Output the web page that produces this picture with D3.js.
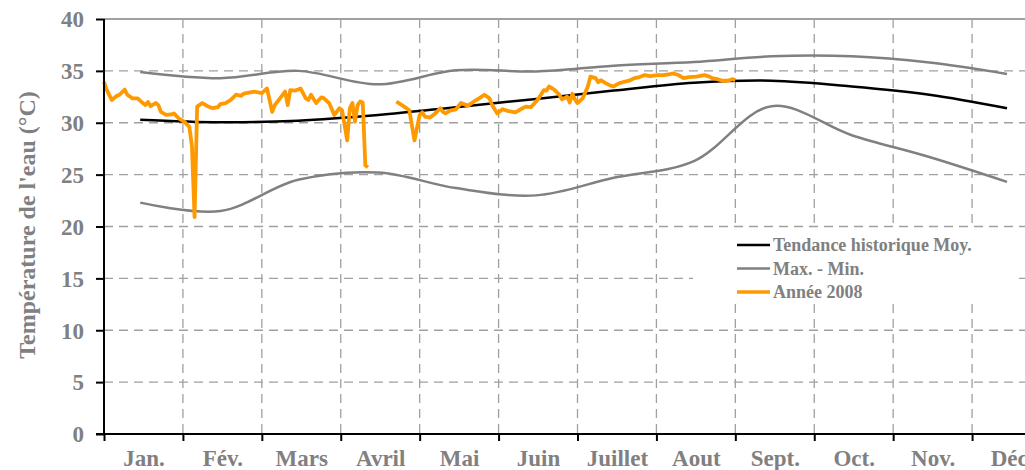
<!DOCTYPE html>
<html lang="fr">
    <head>
        <meta charset="utf-8">
        <title>Température de l'eau</title>
        <script src="https://d3js.org/d3.v7.min.js"></script>
        <style type="text/css">
        body { margin: 0; background: #fff; }
        text { font-family: "Liberation Serif", "Times New Roman", serif; font-weight: bold; fill: #808080; }
        </style>
    </head>
    <body>
        <script type="text/javascript">

//1. Data
const months = ["Jan.", "Fév.", "Mars", "Avril", "Mai", "Juin", "Juillet", "Aout", "Sept.", "Oct.", "Nov.", "Déc."];
const yTicks = [0, 5, 10, 15, 20, 25, 30, 35, 40];

// historical curves, one point around the middle of each month (day of year)
const histDays = [14, 45, 75, 106, 136, 167, 197, 228, 258, 289, 319, 349];
const histMean = [30.3, 30.05, 30.2, 30.75, 31.5, 32.3, 33.1, 33.85, 34.05, 33.5, 32.7, 31.4];
const histMax  = [34.9, 34.3, 35.0, 33.7, 35.05, 34.95, 35.5, 35.85, 36.4, 36.4, 35.8, 34.7];
const histMin  = [22.3, 21.5, 24.5, 25.2, 23.7, 23.0, 24.7, 26.3, 31.6, 28.8, 26.7, 24.3];

// 2008 readings (day of year), null = no data
const obsDays = [0, 1, 3, 5, 6, 8, 9, 11, 13, 15, 16, 17, 18, 20, 21, 22, 24, 26, 27, 29,
    31, 33, 34, 35, 36, 38, 40, 42, 44, 45, 47, 49, 51, 53, 54, 56, 58, 60, 61, 63,
    65, 66, 68, 70, 71, 72, 74, 76, 78, 79, 80, 82, 84, 85, 87, 89, 91, 92, 94, 95,
    96, 97, 98, 99, 100, 101, 102, 107,
    113, 116, 118, 120, 122, 123, 124, 126, 128, 130, 131, 132, 134, 136, 138, 140, 141, 143,
    145, 147, 149, 150, 152, 154, 156, 158, 159, 161, 163, 165, 167, 168, 170, 171, 172, 174,
    176, 177, 179, 180, 181, 182, 183, 185, 187, 188, 190, 191, 192, 194, 196, 197, 199, 201,
    203, 205, 207, 209, 211, 214, 216, 218, 220, 222, 224, 226, 229, 232, 234, 235, 237, 239,
    241, 243, 244];
const obsTemp = [33.95, 33.2, 32.2, 32.6, 32.7, 33.2, 32.7, 32.35, 32.35, 31.9, 31.7, 32.0, 31.6, 31.9, 31.7, 31.05, 30.75, 30.8, 30.9, 30.4,
    30.1, 29.6, 27.7, 20.9, 31.55, 31.9, 31.6, 31.4, 31.5, 31.8, 31.9, 32.2, 32.7, 32.6, 32.8, 32.9, 33.0, 32.9, 32.85, 33.3,
    31.05, 31.7, 32.35, 33.0, 31.7, 33.15, 33.1, 33.3, 32.35, 32.2, 32.7, 31.9, 32.45, 32.35, 31.9, 30.75, 31.4, 31.2, 28.3, 31.4,
    31.9, 30.1, 31.7, 32.05, 31.95, 25.9, 25.7, null,
    32.05, 31.55, 31.2, 28.3, 30.75, 31.0, 30.6, 30.5, 30.9, 31.4, 31.05, 30.9, 31.2, 31.3, 31.9, 31.7, 31.7, 32.05,
    32.35, 32.7, 32.35, 31.7, 30.9, 31.3, 31.15, 31.05, 31.0, 31.3, 31.55, 31.5, 32.05, 32.35, 33.15, 33.1, 33.5, 33.2,
    32.7, 32.25, 32.5, 31.95, 32.8, 32.25, 31.9, 32.35, 33.5, 34.45, 34.3, 33.9, 34.1, 33.8, 33.55, 33.5, 33.8, 33.95,
    34.05, 34.3, 34.4, 34.6, 34.5, 34.6, 34.6, 34.65, 34.75, 34.6, 34.3, 34.4, 34.45, 34.6, 34.45, 34.3, 34.2, 34.05,
    34.05, 34.2, 34.1];

const legendItems = ["Tendance historique Moy.", "Max. - Min.", "Année 2008"];

//2. Layout
const svgWidth = 1025;
const svgHeight = 470;
const plotLeft = 104, plotRight = 1051, plotTop = 19, plotBottom = 434;
const yearDays = 366;
const monthLen = yearDays / 12;

const xScale = d3.scaleLinear().domain([0, yearDays]).range([plotLeft, plotRight]);
const yScale = d3.scaleLinear().domain([0, 40]).range([plotBottom, plotTop]);

const svg = d3.select("body").append("svg")
    .attr("width", svgWidth)
    .attr("height", svgHeight);

const monthEdges = d3.range(13).map(i => i * monthLen);
const monthMids = d3.range(12).map(i => (i + 0.5) * monthLen);

//3. Grid
const grid = svg.append("g");
grid.selectAll("line.h")
    .data(yTicks.filter(v => v > 0))
    .join("line")
    .attr("x1", plotLeft).attr("x2", plotRight)
    .attr("y1", d => yScale(d)).attr("y2", d => yScale(d))
    .attr("stroke", "#a0a0a0")
    .attr("stroke-width", d => d === 40 ? 2 : 1.3)
    .attr("stroke-dasharray", d => d === 40 ? null : "9,6");
grid.selectAll("line.v")
    .data(monthEdges.slice(1))
    .join("line")
    .attr("x1", d => xScale(d)).attr("x2", d => xScale(d))
    .attr("y1", plotTop).attr("y2", plotBottom)
    .attr("stroke", "#a0a0a0")
    .attr("stroke-width", 1.3)
    .attr("stroke-dasharray", "9,6");

//4. Legend box (hides the grid)
svg.append("rect")
    .attr("x", 693).attr("y", 229)
    .attr("width", 320).attr("height", 73)
    .attr("fill", "#fff");

//5. Lines
const histLine = vals => d3.line()
    .x((d, i) => xScale(histDays[i]))
    .y(d => yScale(d))
    .curve(d3.curveCatmullRom.alpha(0.5))(vals);

svg.append("path").attr("d", histLine(histMax))
    .attr("fill", "none").attr("stroke", "#808080").attr("stroke-width", 2.5);
svg.append("path").attr("d", histLine(histMin))
    .attr("fill", "none").attr("stroke", "#808080").attr("stroke-width", 2.5);
svg.append("path").attr("d", histLine(histMean))
    .attr("fill", "none").attr("stroke", "#000").attr("stroke-width", 2.5);

const obs = obsDays.map((d, i) => ({day: d, t: obsTemp[i]}));
svg.append("path")
    .attr("d", d3.line()
        .defined(d => d.t !== null)
        .x(d => xScale(d.day))
        .y(d => yScale(d.t))(obs))
    .attr("fill", "none")
    .attr("stroke", "#ff9900")
    .attr("stroke-width", 3.8)
    .attr("stroke-linejoin", "round");

//6. Axes
const xAxis = svg.append("g")
    .attr("transform", "translate(0," + plotBottom + ")")
    .call(d3.axisBottom(xScale).tickValues(monthEdges).tickSize(7).tickFormat(""));
xAxis.select(".domain").attr("stroke", "#000").attr("stroke-width", 2)
    .attr("d", "M96,0H" + plotRight);
xAxis.selectAll(".tick line").attr("stroke", "#000").attr("stroke-width", 2);

const xLabels = svg.append("g")
    .attr("transform", "translate(0," + plotBottom + ")")
    .call(d3.axisBottom(xScale).tickValues(monthMids).tickSize(0).tickFormat((d, i) => months[i]));
xLabels.select(".domain").remove();
xLabels.selectAll("text")
    .attr("y", 32).attr("dy", 0)
    .attr("font-size", "23px")
    .attr("font-family", null).attr("fill", null);

const yAxis = svg.append("g")
    .attr("transform", "translate(" + plotLeft + ",0)")
    .call(d3.axisLeft(yScale).tickValues(yTicks).tickSize(8));
yAxis.select(".domain").attr("stroke", "#000").attr("stroke-width", 2)
    .attr("d", "M0," + plotTop + "V" + plotBottom);
yAxis.selectAll(".tick line").attr("stroke", "#000").attr("stroke-width", 2);
yAxis.selectAll("text")
    .attr("x", -20).attr("dy", "0.34em")
    .attr("font-size", "23px")
    .attr("font-family", null).attr("fill", null);

// axis title
svg.append("text")
    .attr("transform", "translate(35,225) rotate(-90)")
    .attr("text-anchor", "middle")
    .attr("font-size", "24px")
    .text("Température de l'eau (°C)");

//7. Legend
const legendColors = ["#000", "#808080", "#ff9900"];
const legendWidths = [2.5, 2.5, 3.5];
const legend = svg.append("g");
legendItems.forEach((label, i) => {
    const yy = 245 + i * 23.5;
    legend.append("line")
        .attr("x1", 737).attr("x2", 770)
        .attr("y1", yy).attr("y2", yy)
        .attr("stroke", legendColors[i])
        .attr("stroke-width", legendWidths[i]);
    legend.append("text")
        .attr("x", 773).attr("y", yy + 6)
        .attr("font-size", "18px")
        .text(label);
});

</script>
</body>
</html>
